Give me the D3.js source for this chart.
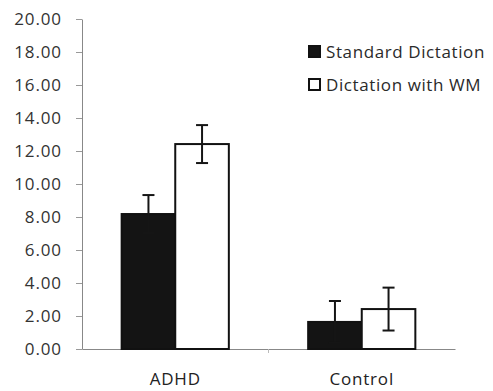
<!DOCTYPE html>
<html>
<head>
<meta charset="utf-8">
<script src="https://cdn.jsdelivr.net/npm/d3@7"></script>
<style>
body { margin: 0; background: #fff; }
text { font-family: "Open Sans", "DejaVu Sans", sans-serif; fill: #2a2a2a; }
</style>
</head>
<body>
<script>
// data
var groups = ["ADHD", "Control"];
var series = ["Standard Dictation", "Dictation with WM"];
var standardVals = [8.18, 1.64];
var wmVals = [12.42, 2.42];
var standardErr = [1.15, 1.27];
var wmErr = [1.15, 1.3];
var yTicks = [0, 2, 4, 6, 8, 10, 12, 14, 16, 18, 20];
var fills = ["#141414", "#ffffff"];

var W = 493, H = 391;
var margin = {top: 19, right: 38, bottom: 42, left: 82};

var svg = d3.select("body").append("svg")
    .attr("width", W)
    .attr("height", H);

var x = d3.scaleBand()
    .domain(groups)
    .range([margin.left, W - margin.right])
    .paddingInner(0)
    .paddingOuter(0);

var xs = d3.scaleBand()
    .domain(series)
    .range([0, x.bandwidth()])
    .paddingInner(0)
    .paddingOuter(0.74);

var y = d3.scaleLinear()
    .domain([0, 20])
    .range([H - margin.bottom, margin.top]);

//y axis
var yAxis = svg.append("g")
    .attr("transform", "translate(" + margin.left + ",0)")
    .call(d3.axisLeft(y).tickValues(yTicks).tickFormat(d3.format(".2f")).tickSize(6).tickSizeOuter(0));
yAxis.select(".domain").attr("stroke", "#888");
yAxis.selectAll(".tick line").attr("stroke", "#999");
yAxis.selectAll(".tick text")
    .attr("x", -20)
    .style("font-size", "17px")
    .style("letter-spacing", "0.9px")
    .style("fill", "#333");

//x axis
var xAxis = svg.append("g")
    .attr("transform", "translate(0," + y(0) + ")")
    .call(d3.axisBottom(x).tickSize(0).tickSizeOuter(0));
xAxis.select(".domain").attr("stroke", "#888");
xAxis.selectAll(".tick text")
    .attr("dy", "0")
    .attr("y", 36)
    .style("font-size", "17px")
    .style("letter-spacing", "0.8px")
    .style("fill", "#222");

// small divider tick between the groups
svg.append("line")
    .attr("x1", x("Control")).attr("x2", x("Control"))
    .attr("y1", y(0)).attr("y2", y(0) + 4)
    .attr("stroke", "#bbb");

var rows = groups.map(function(g, i) {
    return [
        {group: g, s: series[0], v: standardVals[i], e: standardErr[i], k: 0},
        {group: g, s: series[1], v: wmVals[i], e: wmErr[i], k: 1}
    ];
});

var gBars = svg.selectAll(".grp")
    .data(rows)
    .enter().append("g")
    .attr("class", "grp")
    .attr("transform", function(d) { return "translate(" + x(d[0].group) + ",0)"; });

gBars.selectAll("rect")
    .data(function(d) { return d; })
    .enter().append("rect")
    .attr("x", function(d) { return xs(d.s); })
    .attr("y", function(d) { return y(d.v); })
    .attr("width", xs.bandwidth())
    .attr("height", function(d) { return y(0) - y(d.v); })
    .attr("fill", function(d) { return fills[d.k]; })
    .attr("stroke", "#111")
    .attr("stroke-width", 2);

//error bars
var eb = gBars.selectAll(".err")
    .data(function(d) { return d; })
    .enter().append("g")
    .attr("class", "err")
    .attr("stroke", "#151515")
    .attr("stroke-width", 2);

eb.append("line")
    .attr("x1", function(d) { return xs(d.s) + xs.bandwidth() / 2; })
    .attr("x2", function(d) { return xs(d.s) + xs.bandwidth() / 2; })
    .attr("y1", function(d) { return y(d.v + d.e); })
    .attr("y2", function(d) { return y(d.v - d.e); });
[1, -1].forEach(function(sgn) {
    eb.append("line")
        .attr("x1", function(d) { return xs(d.s) + xs.bandwidth() / 2 - 6; })
        .attr("x2", function(d) { return xs(d.s) + xs.bandwidth() / 2 + 6; })
        .attr("y1", function(d) { return y(d.v + sgn * d.e); })
        .attr("y2", function(d) { return y(d.v + sgn * d.e); });
});

//legend
var leg = svg.selectAll(".leg")
    .data(series)
    .enter().append("g")
    .attr("class", "leg")
    .attr("transform", function(d, i) { return "translate(309," + (46 + i * 33) + ")"; });
leg.append("rect")
    .attr("width", 11).attr("height", 11)
    .attr("fill", function(d, i) { return fills[i]; })
    .attr("stroke", "#111")
    .attr("stroke-width", 2);
leg.append("text")
    .attr("x", 17)
    .attr("y", 12)
    .style("font-size", "17px")
    .style("letter-spacing", "0.6px")
    .text(function(d) { return d; });
</script>
</body>
</html>
